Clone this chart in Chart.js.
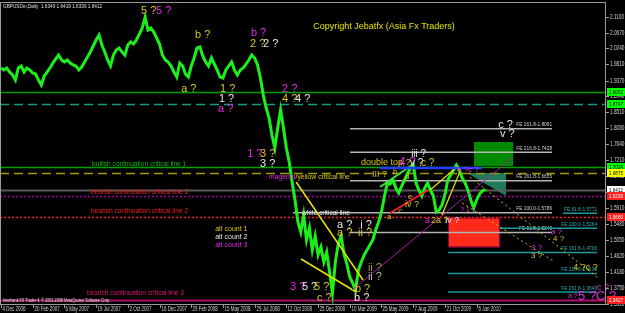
<!DOCTYPE html>
<html>
<head>
<meta charset="utf-8">
<script src="https://cdn.jsdelivr.net/npm/chart.js@4.4.0/dist/chart.umd.min.js"></script>
<style>
  html, body { margin: 0; padding: 0; background: #000; overflow: hidden; }
</style>
</head>
<body>
<canvas id="chart" width="625" height="313"></canvas>
<script>
// GBPUSD weekly closes (week 0 = 4 Dec 2006)
const closes = [
  1.9710, 1.9655, 1.9710, 1.9601, 1.9520, 1.9384, 1.9710, 1.9764, 1.9601, 1.9710,
  1.9655, 1.9574, 1.9547, 1.9384, 1.9249, 1.9493, 1.9601, 1.9710, 1.9845, 1.9954,
  2.0062, 1.9926, 1.9872, 1.9926, 1.9845, 1.9791, 1.9764, 1.9655, 1.9737, 1.9872,
  2.0008, 2.0143, 2.0306, 2.0469, 2.0604, 2.0333, 2.0143, 1.9926, 1.9764, 2.0062,
  2.0198, 2.0252, 2.0143, 2.0062, 2.0333, 2.0414, 2.0360, 2.0469, 2.0631, 2.0794,
  2.1092, 2.0740, 2.0794, 2.0686, 2.0523, 2.0360, 2.0062, 1.9926, 1.9872, 1.9764,
  1.9601, 1.9466, 1.9845, 1.9764, 1.9547, 1.9466, 1.9764, 1.9981, 2.0252, 2.0279,
  2.0035, 1.9872, 1.9764, 1.9981, 1.9818, 1.9655, 1.9466, 1.9438, 1.9655, 1.9764,
  1.9872, 1.9655, 1.9520, 1.9655, 1.9710, 1.9818, 1.9926, 2.0062, 1.9981, 1.9791,
  1.9438, 1.8978, 1.8625, 1.8354, 1.7893, 1.7541, 1.8083, 1.8571, 1.8083, 1.7541,
  1.7161, 1.6619, 1.6131, 1.5535, 1.5264, 1.5724, 1.5047, 1.5372, 1.4776, 1.5155,
  1.4640, 1.4857, 1.4450, 1.4721, 1.4179, 1.3610, 1.4450, 1.4938, 1.5155, 1.4667,
  1.4396, 1.4044, 1.3881, 1.3691, 1.4233, 1.4450, 1.4640, 1.4776, 1.4911, 1.5047,
  1.5318, 1.5535, 1.5806, 1.6212, 1.6592, 1.6565, 1.6673, 1.6456, 1.6321, 1.6511,
  1.6673, 1.6836, 1.6999, 1.7107, 1.6592, 1.6402, 1.6239, 1.6456, 1.6592, 1.6402,
  1.6239, 1.5806, 1.5860, 1.5995, 1.6267, 1.6673, 1.6809, 1.6944, 1.7080, 1.6944,
  1.6727, 1.6592, 1.6402, 1.6131, 1.5914, 1.6131, 1.6294, 1.6375, 1.6412
];

const dateLabels = [
  '4 Dec 2006', '20 Feb 2007', '6 May 2007', '19 Jul 2007', '2 Oct 2007', '16 Dec 2007',
  '29 Feb 2008', '15 May 2008', '29 Jul 2008', '12 Oct 2008', '25 Dec 2008', '10 Mar 2009',
  '25 May 2009', '7 Aug 2009', '21 Oct 2009', '6 Jan 2010'
];
const weeksPerLabel = 11;

const priceTicks = [
  2.1100, 2.0670, 2.0240, 1.9810, 1.9370, 1.8940, 1.8510, 1.8080, 1.7640, 1.7210,
  1.6780, 1.6350, 1.5910, 1.5480, 1.5050, 1.4620, 1.4180, 1.3750, 1.3320
];

// full width critical lines
const levelPrices = [1.9052, 1.8747, 1.7024, 1.6875, 1.6412, 1.6239, 1.5660, 1.3427];
const levelColors = ['#00a000', '#139c84', '#00a000', '#9c9c00', '#5a5a5a', '#a000a0', '#ff1a1a', '#b0106a'];
const levelBoxes = ['#00ff00', '#00ff00', '#00ff00', '#ffff00', '#ffffff', '#ff2020', '#ff2020', '#ff2020'];

// fibonacci expansions
const feWhite = [['FE 261.8-1.8061', 1.8061], ['FE 216.8-1.7428', 1.7428], ['FE 161.8-1.6655', 1.6655],
                 ['FE 100.0-1.5786', 1.5786], ['FE 61.8-1.5249', 1.5249]];
const feTeal = [['FE 61.8-1.5771', 1.5771], ['FE 100.0-1.5364', 1.5364], ['FE 161.8-1.4706', 1.4706],
                ['FE 216.8-1.4139', 1.4139], ['FE 261.8-1.3640', 1.3640]];

const GOLD = '#d8c41c', MAG = '#e028e0', WHT = '#e6e6e6';

// wave labels: text, week, price, colour, size
const waveLabels = [
  ['5 ?', 48.6, 2.1255, GOLD, 11], ['5 ?', 53.8, 2.1255, MAG, 11],
  ['b ?', 67.3, 2.0604, GOLD, 11], ['b ?', 86.7, 2.0658, MAG, 11],
  ['2 ?', 86.4, 2.0360, GOLD, 11], ['2 ?', 90.9, 2.0360, WHT, 11],
  ['a ?', 62.5, 1.9140, GOLD, 11], ['1 ?', 76.0, 1.9140, GOLD, 11],
  ['1 ?', 75.6, 1.8869, WHT, 11], ['a ?', 75.3, 1.8598, MAG, 11],
  ['2 ?', 97.5, 1.9140, MAG, 11], ['4 ?', 97.5, 1.8869, GOLD, 11], ['4 ?', 102.0, 1.8869, WHT, 11],
  ['1 ?', 85.4, 1.7378, MAG, 11], ['3 ?', 89.9, 1.7378, GOLD, 11], ['3 ?', 89.9, 1.7107, WHT, 11],
  ['3 ?', 100.3, 1.3772, MAG, 11], ['5 ?', 104.4, 1.3772, WHT, 11], ['5 ?', 108.6, 1.3772, GOLD, 11],
  ['c ?', 109.6, 1.3474, GOLD, 11],
  ['a ?', 116.6, 1.5453, WHT, 11], ['a ?', 116.6, 1.5236, GOLD, 11],
  ['i ?', 124.6, 1.5453, WHT, 11], ['ii ?', 123.9, 1.5236, GOLD, 11],
  ['ii ?', 127.3, 1.4288, '#a88c4c', 11], ['ii ?', 127.3, 1.4044, '#b4b4b4', 11],
  ['b ?', 122.8, 1.3718, GOLD, 11], ['b ?', 122.5, 1.3474, WHT, 11],
  ['iii ?', 142.3, 1.7378, WHT, 10],
  ['4 ?', 138.1, 1.7134, MAG, 12], ['v ?', 141.9, 1.7134, WHT, 10], ['c ?', 145.7, 1.7134, GOLD, 10],
  ['c ?', 172.5, 1.8164, WHT, 11], ['v ?', 173.1, 1.7920, WHT, 11],
  ['c ?', 206.8, 1.3772, MAG, 9], ['a ?', 196.7, 1.3529, MAG, 7], ['5 ?C ?', 200.2, 1.3529, MAG, 13],
  ['4 ?c ?', 198.5, 1.4288, GOLD, 9],
  ['3 ?', 183.9, 1.4830, MAG, 8], ['3 ?', 183.9, 1.4613, GOLD, 8],
  ['a ?', 190.8, 1.5263, MAG, 8], ['4 ?', 191.5, 1.5074, GOLD, 8],
  ['b ?c ?', 158.2, 1.6944, MAG, 8],
  ['a', 147.1, 1.5562, MAG, 9], ['2a ?', 149.2, 1.5562, GOLD, 9], ['iv ?', 154.1, 1.5562, WHT, 9],
  ['? 1 ?', 159.3, 1.5860, MAG, 7],
  ['a', 133.9, 1.5670, GOLD, 8], ['c', 137.8, 1.5833, GOLD, 8], ['iv ?', 140.2, 1.6022, GOLD, 9],
  ['e', 141.2, 1.6212, GOLD, 8], ['III ?', 128.7, 1.6809, GOLD, 9],
  ['b', 136.0, 1.6890, GOLD, 8], ['d', 140.2, 1.6755, GOLD, 8],
  ['double top ?', 124.9, 1.7134, GOLD, 9],
  ['white critical line', 104.4, 1.5779, WHT, 6.6],
  ['bullish continuation critical line 1', 31.6, 1.7107, '#12b412', 6.6],
  ['bearish continuation critical line 1', 31.2, 1.6335, '#ee2020', 6.6],
  ['bearish continuation critical line 2', 31.2, 1.5833, '#ee2020', 6.6],
  ['bearish continuation critical line 3', 29.8, 1.3610, '#d8186a', 6.6],
  ['alt count 1', 74.3, 1.5345, GOLD, 7], ['alt count 2', 74.3, 1.5128, WHT, 7],
  ['alt count 3', 74.3, 1.4911, MAG, 7],
  ['Copyright Jebatfx (Asia Fx Traders)', 108.3, 2.0821, '#e4e400', 9]
];

// trend lines: from week/price to week/price, colour, width, dash
const trendLines = [
  [102.4, 1.6619, 125.6, 1.3962, '#e6e600', 1.5, []],
  [104.1, 1.4532, 123.2, 1.3637, '#e6e600', 1.5, []],
  [121.8, 1.3691, 177.3, 1.7270, '#a020a0', 1, []],
  [131.5, 1.6484, 142.6, 1.7080, '#40e040', 2, []],
  [135.0, 1.5779, 148.2, 1.6402, '#ff2020', 1.5, []],
  [148.9, 1.6402, 158.6, 1.7053, '#e6e600', 1.2, []],
  [153.0, 1.5724, 159.3, 1.6917, '#e6e600', 1.2, []],
  [131.5, 1.6999, 166.9, 1.6999, '#2040ff', 2.5, []],
  [162.7, 1.6755, 207.2, 1.4016, '#c8c800', 1, [2, 3]],
  [160.0, 1.6050, 192.2, 1.4450, '#c8c800', 1, [2, 3]]
];

const FONT = '"Liberation Sans", Arial, sans-serif';

// squeezed text like the scaled-down terminal screenshot
function txt(c, t, x, y, size, color, sx, align) {
  c.save();
  c.font = size + 'px ' + FONT;
  c.fillStyle = color;
  c.textAlign = align || 'left';
  c.textBaseline = 'middle';
  c.translate(x, y);
  c.scale(sx || 1, 1);
  c.fillText(t, 0, 0);
  c.restore();
}

const overlay = {
  id: 'overlay',
  beforeDraw(chart) {
    const c = chart.ctx;
    c.save();
    c.fillStyle = '#000';
    c.fillRect(0, 0, chart.width, chart.height);
    c.restore();
  },
  beforeDatasetsDraw(chart) {
    const c = chart.ctx, a = chart.chartArea;
    const X = v => chart.scales.x.getPixelForValue(v);
    const Y = v => chart.scales.y.getPixelForValue(v);
    c.save();
    // zones
    c.fillStyle = '#008a00';
    c.fillRect(X(164.1), Y(1.7703), X(177.7) - X(164.1), Y(1.7053) - Y(1.7703));
    c.fillStyle = '#ff2a1a';
    c.fillRect(X(155.1), Y(1.5651), X(172.8) - X(155.1), Y(1.4865) - Y(1.5651));
    c.strokeStyle = '#800050';
    c.lineWidth = 1;
    c.strokeRect(X(155.1) + 0.5, Y(1.5651) + 0.5, X(172.8) - X(155.1), Y(1.4865) - Y(1.5651));
    c.fillStyle = '#1f7a5c';
    c.beginPath();
    c.moveTo(X(161.7), Y(1.6863));
    c.lineTo(X(175.2), Y(1.6863));
    c.lineTo(X(175.2), Y(1.6239));
    c.closePath();
    c.fill();

    // critical levels
    levelPrices.forEach((p, i) => {
      c.strokeStyle = levelColors[i];
      c.lineWidth = (i === 4 || i === 7) ? 2 : 1.5;
      c.setLineDash(i === 1 || i === 3 ? [9, 5] : (i === 5 || i === 6) ? [2, 2] : []);
      c.beginPath();
      c.moveTo(a.left, Math.round(Y(p)) + 0.5);
      c.lineTo(a.right, Math.round(Y(p)) + 0.5);
      c.stroke();
    });
    c.setLineDash([]);

    // fibo lines
    feWhite.forEach(([t, p], i) => {
      const x0 = i === 3 ? X(101.3) : X(121.1);
      c.strokeStyle = '#b4b4b4';
      c.lineWidth = 1.5;
      c.beginPath();
      c.moveTo(x0, Y(p));
      c.lineTo(X(191.2), Y(p));
      c.stroke();
      txt(c, t, X(191.2), Y(p) - 4, 6, '#d0d0d0', 0.8, 'right');
    });
    feTeal.forEach(([t, p], i) => {
      const x0 = i === 0 ? X(195.0) : i === 1 ? X(173.1) : X(155.1);
      c.strokeStyle = '#1a9a9a';
      c.lineWidth = 1.5;
      c.beginPath();
      c.moveTo(x0, Y(p));
      c.lineTo(X(206.8), Y(p));
      c.stroke();
      txt(c, t, X(206.8), Y(p) - 4, 6, '#2ab0b0', 0.8, 'right');
    });
    c.restore();
  },
  afterDatasetsDraw(chart) {
    const c = chart.ctx, a = chart.chartArea;
    const X = v => chart.scales.x.getPixelForValue(v);
    const Y = v => chart.scales.y.getPixelForValue(v);
    c.save();

    trendLines.forEach(([w0, p0, w1, p1, col, lw, dash]) => {
      c.strokeStyle = col;
      c.lineWidth = lw;
      c.setLineDash(dash);
      c.beginPath();
      c.moveTo(X(w0), Y(p0));
      c.lineTo(X(w1), Y(p1));
      c.stroke();
    });
    c.setLineDash([]);

    waveLabels.forEach(([t, w, p, col, size]) => {
      txt(c, t, X(w), Y(p), size, col, 1);
    });
    // two coloured label
    c.font = '6.8px ' + FONT;
    const mw = c.measureText('magenta').width;
    txt(c, 'magenta', X(93.0), Y(1.6755), 6.8, MAG, 1);
    txt(c, '/yellow critical line', X(93.0) + mw, Y(1.6755), 6.8, GOLD, 1);

    // header and footer texts
    txt(c, 'GBPUSDm,Daily  1.6349 1.6419 1.6336 1.6412', a.left + 3, a.top + 4, 6, '#e0e0e0', 0.78);
    txt(c, 'Interbank FX Trader 4, \u00a9 2001-2008 MetaQuotes Software Corp.', a.left + 3, a.bottom - 4, 6, '#e0e0e0', 0.62);

    // frame
    c.strokeStyle = '#9a9a9a';
    c.lineWidth = 1;
    c.strokeRect(a.left + 0.5, a.top + 0.5, a.right - a.left - 1, a.bottom - a.top);

    // price axis
    priceTicks.forEach(p => {
      const y = Math.round(Y(p)) + 0.5;
      c.beginPath();
      c.moveTo(a.right, y);
      c.lineTo(a.right + 3, y);
      c.stroke();
      txt(c, p.toFixed(4), a.right + 4, y, 6.4, '#d4d4d4', 0.74);
    });
    levelPrices.forEach((p, i) => {
      const y = Math.round(Y(p));
      c.fillStyle = levelBoxes[i];
      c.fillRect(a.right + 1, y - 4, 18, 8);
      txt(c, p.toFixed(4), a.right + 3, y, 6, i >= 5 ? '#ffffff' : '#000000', 0.76);
    });

    // date axis
    dateLabels.forEach((d, i) => {
      const x = Math.round(X(i * weeksPerLabel)) + 0.5;
      c.beginPath();
      c.moveTo(x, a.bottom);
      c.lineTo(x, a.bottom + 4);
      c.stroke();
      txt(c, d, x + 1, a.bottom + 5, 6.4, '#d4d4d4', 0.7);
    });
    c.restore();
  }
};

new Chart(document.getElementById('chart'), {
  type: 'line',
  data: {
    datasets: [{
      data: closes.map((v, i) => ({ x: i, y: v })),
      borderColor: '#1cf01c',
      borderWidth: 3,
      pointRadius: 0,
      tension: 0
    }]
  },
  options: {
    responsive: false,
    animation: false,
    layout: { padding: { left: 0, right: 19, top: 2, bottom: 9 } },
    plugins: { legend: { display: false }, tooltip: { enabled: false } },
    scales: {
      x: { type: 'linear', display: false, min: -0.347, max: 209.9 },
      y: { type: 'linear', display: false, min: 1.3312, max: 2.1499 }
    }
  },
  plugins: [overlay]
});
</script>
</body>
</html>
